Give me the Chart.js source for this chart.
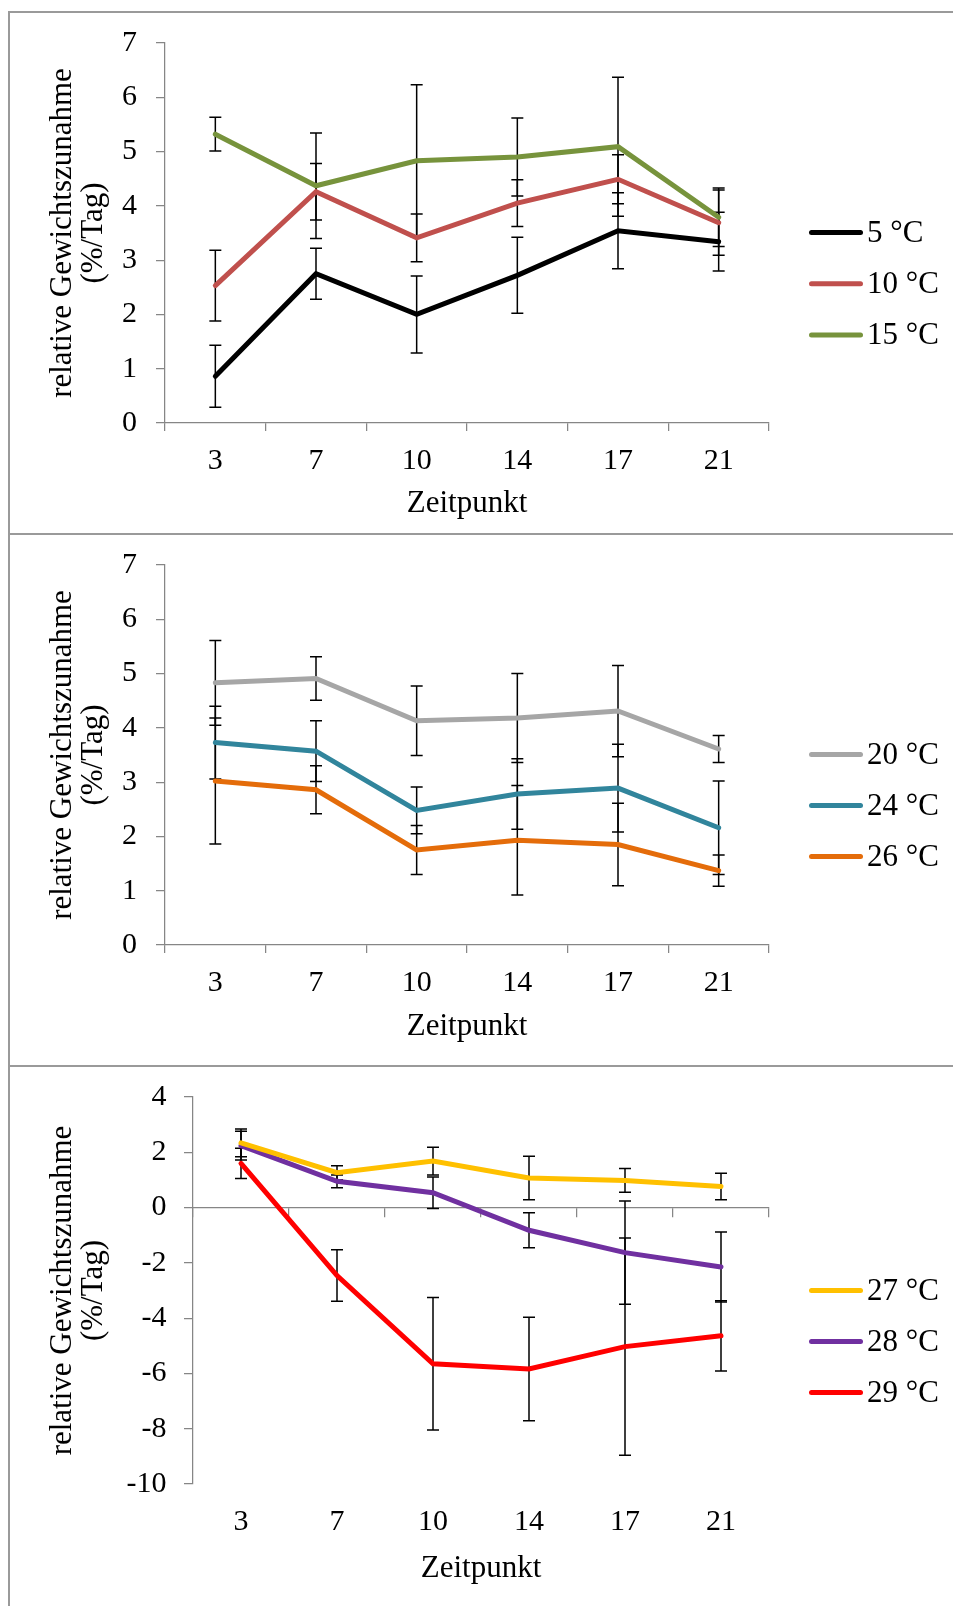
<!DOCTYPE html>
<html>
<head>
<meta charset="utf-8">
<script src="https://cdn.jsdelivr.net/npm/chart.js@4.4.1/dist/chart.umd.min.js"></script>
<style>
  body { margin: 0; background: #fff; width: 953px; height: 1606px; overflow: hidden; position: relative; }
  .frame { position: absolute; left: 8px; width: 1000px; border: 2px solid #9a9a9a; box-sizing: border-box; }
  canvas { position: absolute; left: 0; }
</style>
</head>
<body>
<div class="frame" style="top:11px;height:524px"></div>
<div class="frame" style="top:533px;height:534px"></div>
<div class="frame" style="top:1065px;height:600px"></div>
<canvas id="c1" width="953" height="520" style="top:13px"></canvas>
<canvas id="c2" width="953" height="520" style="top:535px"></canvas>
<canvas id="c3" width="953" height="539" style="top:1067px"></canvas>
<script>
// Zeitpunkte (Tage)
const zeitpunkte = ["3", "7", "10", "14", "17", "21"];

// relative Gewichtszunahme (%/Tag), Mittelwerte und Fehlerbalken
const rgz5 = [0.86, 2.75, 2.0, 2.72, 3.54, 3.34];
const err5 = [0.57, 0.47, 0.71, 0.70, 0.70, 0.54];
const rgz10 = [2.53, 4.26, 3.41, 4.05, 4.49, 3.69];
const err10 = [0.65, 0.52, 0.44, 0.43, 0.45, 0.60];
const rgz15 = [5.32, 4.37, 4.83, 4.90, 5.09, 3.79];
const err15 = [0.31, 0.97, 1.40, 0.72, 1.28, 0.54];

const rgz20 = [4.83, 4.91, 4.13, 4.18, 4.31, 3.61];
const err20 = [0.78, 0.40, 0.64, 0.82, 0.84, 0.25];
const rgz24 = [3.73, 3.57, 2.48, 2.78, 2.89, 2.16];
const err24 = [0.67, 0.56, 0.43, 0.65, 0.81, 0.86];
const rgz26 = [3.02, 2.86, 1.75, 1.93, 1.85, 1.37];
const err26 = [1.16, 0.44, 0.45, 1.01, 0.76, 0.29];

const rgz27 = [2.34, 1.26, 1.68, 1.07, 0.98, 0.76];
const err27 = [0.50, 0.25, 0.50, 0.79, 0.43, 0.48];
const rgz28 = [2.24, 0.95, 0.54, -0.82, -1.63, -2.15];
const err28 = [0.52, 0.23, 0.57, 0.63, 1.87, 1.27];
const rgz29 = [1.60, -2.46, -5.65, -5.84, -5.03, -4.64];
const err29 = [0.55, 0.93, 2.40, 1.87, 3.93, 1.27];

// Achsenbereiche [min, max, schritt]
const yRangeOben = [0, 7, 1];
const yRangeUnten = [-10, 4, 2];

const FONT = "'Liberation Serif', 'Times New Roman', serif";
const AXIS = "#868686";

// Fehlerbalken unter die Linien zeichnen
const errorBars = {
  id: "errorBars",
  beforeDatasetsDraw(chart) {
    const ctx = chart.ctx;
    const xs = chart.scales.x, ys = chart.scales.y;
    ctx.save();
    ctx.strokeStyle = "#000";
    ctx.lineWidth = 1.5;
    chart.data.datasets.forEach((ds) => {
      ds.data.forEach((v, i) => {
        const e = ds.errors[i];
        const x = xs.getPixelForValue(i);
        const y1 = ys.getPixelForValue(v + e);
        const y2 = ys.getPixelForValue(v - e);
        ctx.beginPath();
        ctx.moveTo(x, y1); ctx.lineTo(x, y2);
        ctx.moveTo(x - 6, y1); ctx.lineTo(x + 6, y1);
        ctx.moveTo(x - 6, y2); ctx.lineTo(x + 6, y2);
        ctx.stroke();
      });
    });
    ctx.restore();
  },
};

// Legende rechts neben dem Diagramm
const sideLegend = {
  id: "sideLegend",
  afterDraw(chart, args, opts) {
    const ctx = chart.ctx;
    ctx.save();
    ctx.font = "31px " + FONT;
    ctx.textBaseline = "middle";
    ctx.fillStyle = "#000";
    chart.data.datasets.forEach((ds, i) => {
      const y = opts.top + i * opts.gap;
      ctx.strokeStyle = ds.borderColor;
      ctx.lineWidth = 5;
      ctx.lineCap = "round";
      ctx.beginPath();
      ctx.moveTo(opts.x + 2.5, y);
      ctx.lineTo(opts.x + 51.5, y);
      ctx.stroke();
      ctx.fillText(ds.label, opts.x + 58, y + 1);
    });
    ctx.restore();
  },
};

function series(label, data, errors, color) {
  return {
    label, data, errors,
    borderColor: color,
    backgroundColor: color,
    borderWidth: 5,
    pointRadius: 0,
    tension: 0,
    borderCapStyle: "round",
  };
}

function gridOpts(len) {
  return { offset: true, drawOnChartArea: false, drawTicks: true, tickLength: len, color: AXIS, lineWidth: 1.25 };
}

function makeChart(id, datasets, yRange, opts) {
  const scales = {
    x: {
      type: "category",
      offset: true,
      grid: opts.zeroAxis ? { display: false, drawTicks: false } : gridOpts(8),
      border: opts.zeroAxis ? { display: false } : { color: AXIS, width: 1.25 },
      ticks: { color: "#000", font: { family: FONT, size: 30 }, padding: opts.xPad, maxRotation: 0 },
      title: {
        display: true, text: "Zeitpunkt", color: "#000",
        font: { family: FONT, size: 31, lineHeight: 1.0 },
        padding: { top: 0, bottom: opts.xTitlePad },
      },
      afterFit: (s) => { s.height = opts.xHeight; },
    },
    y: {
      min: yRange[0], max: yRange[1],
      grid: { drawOnChartArea: false, drawTicks: true, tickLength: 9, color: AXIS, lineWidth: 1.25 },
      border: { color: AXIS, width: 1.25 },
      ticks: { stepSize: yRange[2], color: "#000", font: { family: FONT, size: 30 }, padding: opts.yPad },
      title: {
        display: true, text: ["relative Gewichtszunahme", "(%/Tag)"], color: "#000",
        font: { family: FONT, size: 31, lineHeight: 1.0 },
        padding: { top: 47, bottom: 0 },
      },
      afterFit: (s) => {
        s.width = opts.yWidth;
        s.paddingTop = 0;
        s.paddingBottom = 0;
      },
    },
  };
  if (opts.zeroAxis) {
    scales.xz = {
      type: "category",
      labels: zeitpunkte,
      position: { y: 0 },
      offset: true,
      grid: gridOpts(9),
      border: { color: AXIS, width: 1.25 },
      ticks: { display: false },
    };
  }
  return new Chart(document.getElementById(id), {
    type: "line",
    data: { labels: zeitpunkte, datasets },
    options: {
      responsive: false,
      animation: false,
      layout: { padding: { top: 30, right: 184, left: 0, bottom: 0 } },
      plugins: {
        legend: { display: false },
        tooltip: { enabled: false },
        sideLegend: opts.legend,
      },
      scales,
    },
    plugins: [errorBars, sideLegend],
  });
}

makeChart("c1", [
  series("5 °C", rgz5, err5, "#000000"),
  series("10 °C", rgz10, err10, "#C0504D"),
  series("15 °C", rgz15, err15, "#77933C"),
], yRangeOben, { xHeight: 110, xPad: 12, xTitlePad: 14, yWidth: 165, yPad: 19, legend: { x: 809, top: 219.5, gap: 51.3 } });

makeChart("c2", [
  series("20 °C", rgz20, err20, "#A6A6A6"),
  series("24 °C", rgz24, err24, "#31859C"),
  series("26 °C", rgz26, err26, "#E46C0A"),
], yRangeOben, { xHeight: 110, xPad: 12, xTitlePad: 13, yWidth: 165, yPad: 19, legend: { x: 809, top: 219.5, gap: 51 } });

makeChart("c3", [
  series("27 °C", rgz27, err27, "#FFC000"),
  series("28 °C", rgz28, err28, "#7030A0"),
  series("29 °C", rgz29, err29, "#FF0000"),
], yRangeUnten, { zeroAxis: true, xHeight: 122, xPad: 20, xTitlePad: 22, yWidth: 193, yPad: 17.5, legend: { x: 809, top: 223.5, gap: 51 } });
</script>
</body>
</html>
